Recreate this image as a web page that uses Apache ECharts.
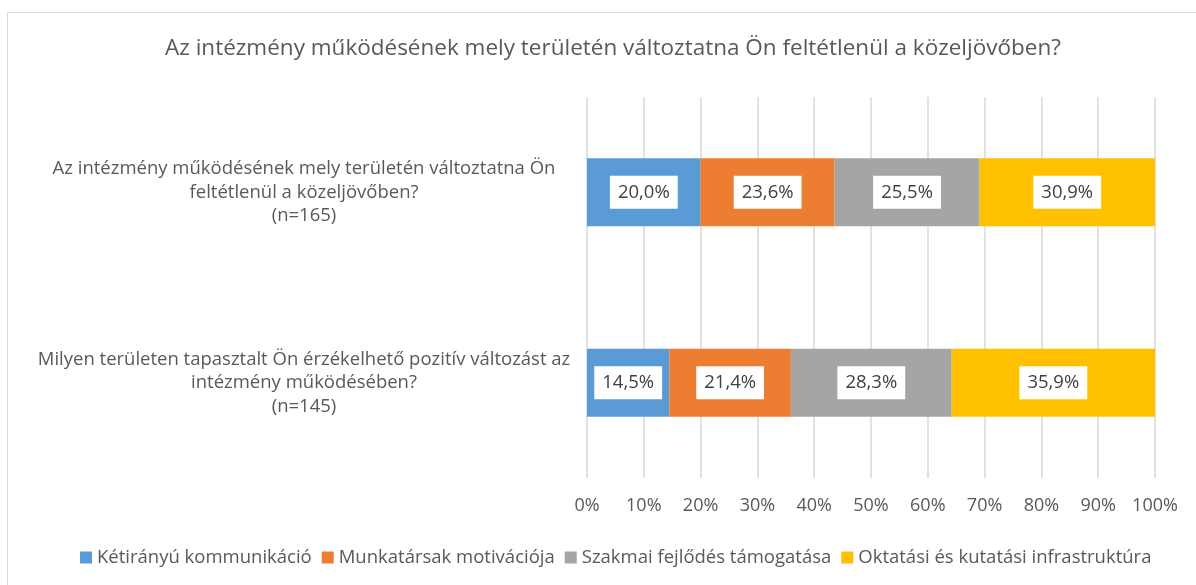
<!DOCTYPE html>
<html>
<head>
<meta charset="utf-8">
<script src="https://cdn.jsdelivr.net/npm/echarts@6/dist/echarts.min.js"></script>
<style>
  html, body { margin: 0; padding: 0; background: #fff; }
  #wrap { position: relative; width: 1196px; height: 585px; overflow: hidden; }
  #chart { width: 1196px; height: 585px; }
  .frame { position: absolute; left: 7px; top: 12px; width: 1210px; height: 600px; border: 1px solid #d9d9d9; pointer-events: none; }
</style>
</head>
<body>
<div id="wrap">
  <div id="chart"></div>
  <div class="frame"></div>
</div>
<script>
const title = 'Az intézmény működésének mely területén változtatna Ön feltétlenül a közeljövőben?';
const categories = [
  'Az intézmény működésének mely területén változtatna Ön\nfeltétlenül a közeljövőben?\n(n=165)',
  'Milyen területen tapasztalt Ön érzékelhető pozitív változást az\nintézmény működésében?\n(n=145)'
];
const seriesNames = ['Kétirányú kommunikáció', 'Munkatársak motivációja', 'Szakmai fejlődés támogatása', 'Oktatási és kutatási infrastruktúra'];
const kommunikacio = [20.0, 14.5];
const motivacio = [23.6, 21.4];
const fejlodes = [25.5, 28.3];
const infrastruktura = [30.9, 35.9];
const colors = ['#5b9bd5', '#ed7d31', '#a5a5a5', '#ffc000'];

const chart = echarts.init(document.getElementById('chart'));
const font = '"Open Sans", sans-serif';
const text = '#595959';

const makeSeries = (name, data, color) => ({
  name,
  type: 'bar',
  stack: 'total',
  data,
  barWidth: 68,
  itemStyle: { color },
  label: {
    show: true,
    position: 'inside',
    formatter: (p) => p.value.toFixed(1).replace('.', ',') + '%',
    color: '#404040',
    fontFamily: font,
    fontSize: 18.5,
    lineHeight: 20,
    backgroundColor: '#ffffff',
    padding: [7, 8, 6, 8]
  }
});

chart.setOption({
  animation: false,
  textStyle: { fontFamily: font },
  title: {
    text: title,
    top: 32,
    left: 608,
    textAlign: 'center',
    textStyle: { color: text, fontFamily: font, fontSize: 22.5, fontWeight: 'normal' }
  },
  legend: {
    bottom: 13,
    left: 75,
    itemWidth: 12,
    itemHeight: 12,
    itemGap: 10,
    icon: 'rect',
    textStyle: { color: text, fontFamily: font, fontSize: 18.5 },
    data: seriesNames
  },
  grid: { left: 587, right: 41, top: 97, bottom: 107, containLabel: false },
  xAxis: {
    type: 'value',
    min: 0,
    max: 100,
    interval: 10,
    axisLine: { show: false },
    axisTick: { show: false },
    splitLine: { lineStyle: { color: '#d9d9d9', width: 1.5 } },
    axisLabel: {
      color: text,
      fontFamily: font,
      fontSize: 18,
      margin: 19,
      formatter: '{value}%'
    }
  },
  yAxis: {
    type: 'category',
    inverse: true,
    data: categories,
    axisLine: { show: false },
    axisTick: { show: false },
    axisLabel: {
      color: text,
      fontFamily: font,
      fontSize: 18.5,
      lineHeight: 23.5,
      align: 'center',
      margin: 283
    }
  },
  series: [
    makeSeries(seriesNames[0], kommunikacio, colors[0]),
    makeSeries(seriesNames[1], motivacio, colors[1]),
    makeSeries(seriesNames[2], fejlodes, colors[2]),
    makeSeries(seriesNames[3], infrastruktura, colors[3])
  ]
});
</script>
</body>
</html>
